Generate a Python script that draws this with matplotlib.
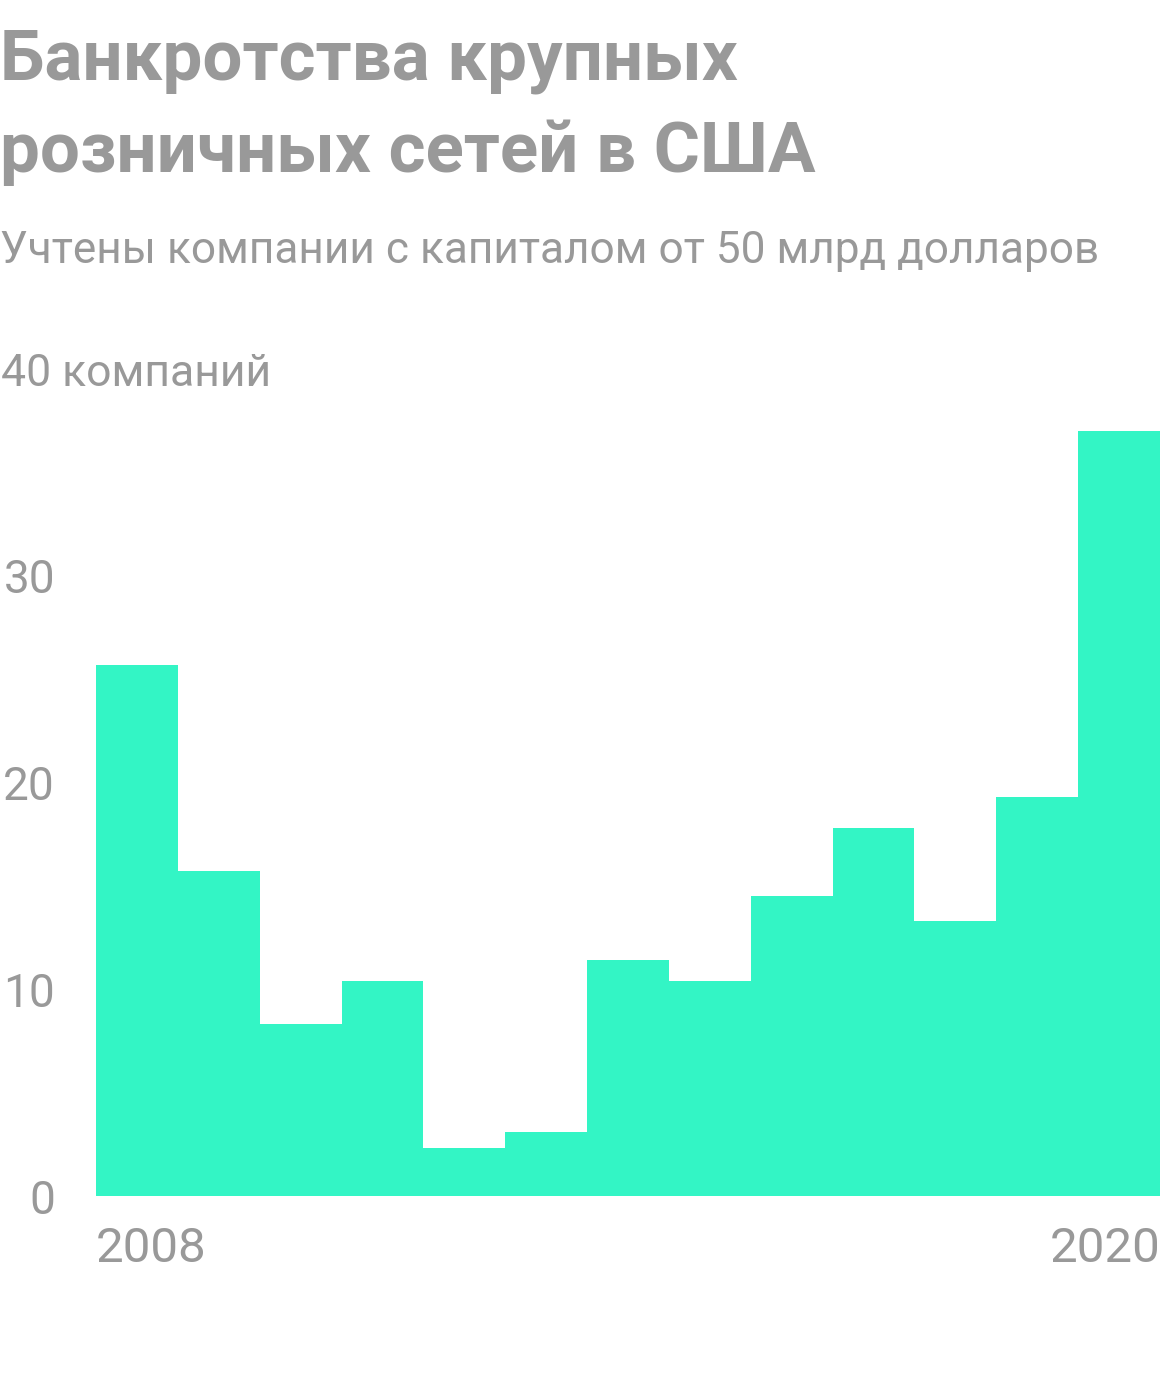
import matplotlib
matplotlib.use("Agg")
import matplotlib.pyplot as plt
from matplotlib.transforms import blended_transform_factory

years = [2008, 2009, 2010, 2011, 2012, 2013, 2014, 2015, 2016, 2017, 2018, 2019, 2020]
bankruptcies = [25.7, 15.7, 8.3, 10.4, 2.3, 3.1, 11.4, 10.4, 14.5, 17.8, 13.3, 19.3, 37.0]
y_ticks = [0, 10, 20, 30]
y_top_label = "40 компаний"
x_labels = ["2008", "2020"]
title_lines = ["Банкротства крупных", "розничных сетей в США"]
subtitle = "Учтены компании с капиталом от 50 млрд долларов"

W, H = 1160, 1376
GREY = "#999999"
BAR = "#33F5C5"
plt.rcParams['font.family'] = ['Roboto', 'DejaVu Sans']

fig = plt.figure(figsize=(W / 100, H / 100), dpi=100)
fig.patch.set_facecolor("white")

def fx(px):
    return px / W

def fy(py):
    return 1 - py / H

ax = fig.add_axes([fx(96), fy(1196), fx(1160) - fx(96), fy(369) - fy(1196)])
ax.bar(years, bankruptcies, width=1.0, color=BAR, linewidth=0)
ax.set_xlim(years[0] - 0.5, years[-1] + 0.5)
ax.set_ylim(0, 40)
ax.axis("off")

# y tick labels
tr_y = blended_transform_factory(fig.transFigure, ax.transData)
for v in y_ticks:
    ax.text(fx(55), v, str(v), transform=tr_y, ha="right", va="center_baseline",
            fontsize=33, color=GREY)
ax.text(fx(1), 40, y_top_label, transform=tr_y, ha="left", va="center_baseline",
        fontsize=32, color=GREY)

# x labels
tr_x = blended_transform_factory(ax.transData, fig.transFigure)
ax.text(years[0] - 0.5, fy(1262), x_labels[0], transform=tr_x, ha="left", va="baseline",
        fontsize=35.5, color=GREY)
ax.text(years[-1] + 0.5, fy(1262), x_labels[1], transform=tr_x, ha="right", va="baseline",
        fontsize=35.5, color=GREY)

# titles
fig.text(fx(0), fy(80), title_lines[0], ha="left", va="baseline", fontsize=51,
         fontweight="bold", color=GREY)
fig.text(fx(0), fy(172), title_lines[1], ha="left", va="baseline", fontsize=51,
         fontweight="bold", color=GREY)
fig.text(fx(0), fy(263), subtitle, ha="left", va="baseline", fontsize=31.8, color=GREY)

fig.savefig("out.png", dpi=100, facecolor="white")
